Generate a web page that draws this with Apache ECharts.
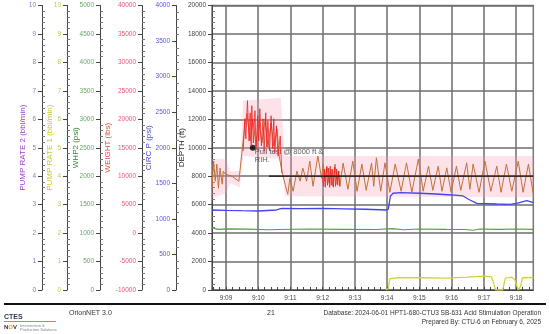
<!DOCTYPE html>
<html><head><meta charset="utf-8">
<script src="https://cdn.jsdelivr.net/npm/echarts@6/dist/echarts.min.js"></script>
<style>html,body{margin:0;padding:0;background:#fff}#c{width:550px;height:334px}</style>
</head><body><div id="c"></div>
<script>
// time in seconds after 9:00
const xTickSeconds = [540,600,660,720,780,840,900,960,1020,1080];
const xTickLabels = ['9:09','9:10','9:11','9:12','9:13','9:14','9:15','9:16','9:17','9:18'];

const weightBrown = [[514,7880],[517,12660],[520,9120],[523,12125],[526,7880],[529,11420],[533,8590],[535,10890],[539,10355],[551,10000],[564,9120],[570,14430],[575,18850],[579,20980],[585,16200],[590,20090],[596,15310],[601,19740],[607,15840],[613,20090],[618,15130],[624,19380],[629,15310],[635,18320],[639,13540],[644,10890],[650,8590],[655,6815],[659,9650],[665,7350],[672,10890],[678,9120],[683,11420],[690,9120],[696,12660],[702,8230],[711,13540],[718,9650],[721,12125],[724,9120],[728,11770],[732,8760],[735,11240],[739,8230],[743,12125],[747,8590],[750,10890],[752,8230],[758,12300],[767,7700],[776,12660],[784,7350],[793,12125],[801,7520],[811,12300],[815,8230],[820,13240],[828,7350],[836,12355],[845,7170],[855,12125],[866,7350],[876,12355],[886,7170],[898,13010],[907,7350],[917,11770],[925,7520],[935,11770],[942,7350],[951,11470],[959,7170],[969,11770],[977,7520],[988,12355],[994,7700],[1000,12125],[1011,7170],[1022,12660],[1033,7350],[1044,11770],[1052,7170],[1062,12125],[1072,7350],[1084,12660],[1093,7170],[1103,12125],[1112,6815]];

const weightRed = [[572,14430],[575,20090],[577,16550],[580,23280],[583,16200],[585,21150],[587,15310],[588,22390],[591,15840],[594,21510],[596,14780],[599,20620],[601,16200],[603,21860],[606,15310],[609,20090],[611,14430],[614,21150],[616,15130],[618,19740],[621,14430],[624,20620],[627,14780],[629,20090],[631,14070],[634,18850],[637,13540],[641,17080],[644,10530],[680,null],[719,10000],[722,8230],[723,11240],[725,8050],[727,11590],[729,8410],[731,11420],[733,8050],[734,11770],[736,8410],[738,11240],[740,8050],[742,11590],[744,8230],[746,11240],[748,8410],[749,10890],[752,8230]];

const bandTime = [514,540,548,566,572,642,650,1112];
const bandLow  = [6110,6990,8760,8050,13540,13010,6460,6280];
const bandHigh = [13010,13010,10890,10890,23280,23800,13540,13540];

const circP = [[514,1125],[540,1120],[570,1115],[600,1111],[634,1125],[644,1149],[680,1145],[720,1149],[760,1142],[800,1135],[838,1125],[842,1135],[846,1320],[851,1360],[865,1368],[900,1360],[930,1350],[960,1336],[981,1322],[994,1265],[1007,1219],[1044,1209],[1069,1205],[1081,1219],[1100,1256],[1112,1228]];

const whp2 = [[514,1095],[525,1065],[545,1075],[580,1070],[620,1060],[660,1068],[700,1072],[760,1066],[820,1062],[850,1078],[870,1060],[900,1072],[950,1066],[985,1062],[1000,1050],[1012,1072],[1050,1066],[1080,1072],[1112,1066]];

const pumpRate1 = [[838,0],[842,0.05],[845,0.4],[860,0.43],[900,0.43],[950,0.42],[990,0.45],[1020,0.49],[1034,0.46],[1038,0.25],[1042,0],[1055,0],[1060,0.42],[1072,0.45],[1078,0.35],[1084,0],[1088,0.12],[1092,0.43],[1112,0.44]];

const depth = [[620,8000],[1112,8000]];
const note = [[590,15000]];
const noteText = 'Pull test @ 8000 ft &\nRIH.';

const F = "'Liberation Sans', Arial, sans-serif";
const xMin = 514, xMax = 1112;
const minorVals = [];
for (let v = 516; v <= xMax; v += 12) minorVals.push(v);

function yAx(name, min, max, interval, offset, nameGap, nameColor, labelColor) {
  return {
    type: 'value', position: 'left', offset, min, max, interval,
    name, nameLocation: 'middle', nameGap, nameMoveOverlap: false,
    nameTextStyle: { color: nameColor, fontSize: 8, fontFamily: F },
    axisLine: { show: true, lineStyle: { color: '#444', width: 1 } },
    axisTick: { show: true, length: 4, lineStyle: { color: '#444' } },
    minorTick: { show: true, splitNumber: 5, length: -3, lineStyle: { color: '#777' } },
    axisLabel: { color: labelColor, fontSize: 6.5, margin: 6, fontFamily: F, formatter: (v) => String(v) },
    splitLine: { show: false }
  };
}

const chart = echarts.init(document.getElementById('c'), null, { renderer: 'canvas' });
chart.setOption({
  animation: false,
  textStyle: { fontFamily: F },
  grid: { left: 212, right: 16.7, top: 5.5, bottom: 44, show: true, borderColor: '#777', borderWidth: 1.5, outerBoundsMode: 'none', containLabel: false },
  xAxis: {
    type: 'value', min: xMin, max: xMax,
    axisLine: { show: true, onZero: false, lineStyle: { color: '#444', width: 1 } },
    axisTick: { show: true, inside: true, length: 3, customValues: minorVals, lineStyle: { color: '#444' } },
    axisLabel: { customValues: xTickSeconds, fontSize: 6.5, color: '#444', margin: 5,
      formatter: (v) => { const i = xTickSeconds.indexOf(v); return i >= 0 ? xTickLabels[i] : ''; } },
    splitLine: { show: false }
  },
  yAxis: [
    Object.assign(yAx('DEPTH (ft)', 0, 20000, 2000, 0, 26, '#222', '#444'),
      { splitLine: { show: true, lineStyle: { color: '#6e6e6e', width: 1.5 } } }),
    yAx('CIRC P (psi)', 0, 4000, 500, 36, 23, '#4b4bdc', '#5555ee'),
    yAx('WEIGHT (lbs)', -10000, 40000, 5000, 70, 30, '#e0503a', '#ee5577'),
    yAx('WHP2 (psi)', 0, 5000, 500, 112, 20, '#2e8b2e', '#66aa66'),
    yAx('PUMP RATE 1 (bbl/min)', 0, 10, 1, 145, 13, '#c8c832', '#c8c860'),
    yAx('PUMP RATE 2 (bbl/min)', 0, 10, 1, 170, 15.5, '#a040d0', '#9a70d0')
  ],
  series: [
    { name: 'band', type: 'custom', yAxisIndex: 2, silent: true, clip: true, data: [[bandTime[0], bandLow[0]]],
      renderItem: (params, api) => {
        const pts = [];
        for (let i = 0; i < bandTime.length; i++) pts.push(api.coord([bandTime[i], bandHigh[i]]));
        for (let i = bandTime.length - 1; i >= 0; i--) pts.push(api.coord([bandTime[i], bandLow[i]]));
        return { type: 'polygon', shape: { points: pts }, style: { fill: 'rgba(250,150,175,0.28)' } };
      } },
    { name: 'CIRC P', type: 'line', yAxisIndex: 1, data: circP, symbol: 'none', lineStyle: { color: '#4444ee', width: 1.3 },
      markLine: { silent: true, z: 0, symbol: ['none', 'none'], label: { show: false }, lineStyle: { color: '#6e6e6e', width: 1.5, type: 'solid' }, data: xTickSeconds.map(v => ({ xAxis: v })) } },
    { name: 'WHP2', type: 'line', yAxisIndex: 3, data: whp2, symbol: 'none', lineStyle: { color: '#5a9a4a', width: 1.1 } },
    { name: 'PUMP RATE 1', type: 'line', yAxisIndex: 4, data: pumpRate1, symbol: 'none', lineStyle: { color: '#d4d43a', width: 1.3 } },
    { name: 'WEIGHT2', type: 'line', yAxisIndex: 2, data: weightBrown, symbol: 'none', lineStyle: { color: '#c0703a', width: 1 } },
    { name: 'WEIGHT', type: 'line', yAxisIndex: 2, data: weightRed, symbol: 'none', connectNulls: false, lineStyle: { color: '#f02020', width: 0.8 } },
    { name: 'DEPTH', type: 'line', yAxisIndex: 0, data: depth, symbol: 'none', lineStyle: { color: '#111', width: 1.3 } },
    { name: 'note', type: 'scatter', yAxisIndex: 2, data: note, symbolSize: 6, itemStyle: { color: '#000' },
      label: { show: true, position: 'right', distance: 0, offset: [-1, 8], formatter: noteText, fontSize: 7.5, color: '#333', lineHeight: 8.5, fontFamily: F } }
  ],
  graphic: [
    { type: 'rect', shape: { x: 4, y: 303, width: 542, height: 2 }, style: { fill: '#111' } },
    { type: 'text', x: 69, y: 313, style: { text: 'OrionNET 3.0', font: "7px 'Liberation Sans'", fill: '#333', verticalAlign: 'middle' } },
    { type: 'text', x: 271, y: 313, style: { text: '21', font: "7px 'Liberation Sans'", fill: '#333', align: 'center', verticalAlign: 'middle' } },
    { type: 'text', x: 541, y: 313, style: { text: 'Database: 2024-06-01 HPT1-680-CTU3 SB-631 Acid Stimulation Operation', font: "6.5px 'Liberation Sans'", fill: '#333', align: 'right', verticalAlign: 'middle' } },
    { type: 'text', x: 541, y: 322.5, style: { text: 'Prepared By: CTU-6 on February 6, 2025', font: "6.5px 'Liberation Sans'", fill: '#333', align: 'right', verticalAlign: 'middle' } },
    { type: 'text', x: 4, y: 317, style: { text: 'CTES', font: "bold 7px 'Liberation Sans'", fill: '#2a3550', verticalAlign: 'middle' } },
    { type: 'rect', shape: { x: 4, y: 321, width: 52, height: 0.8 }, style: { fill: '#b05050' } },
    { type: 'text', x: 4, y: 327.5, style: { text: '{a|N}{b|O}{a|V}', verticalAlign: 'middle', rich: { a: { font: "bold 6px 'Liberation Sans'", fill: '#1f2a44' }, b: { font: "bold 6px 'Liberation Sans'", fill: '#e8a020' } } } },
    { type: 'text', x: 20, y: 327.5, style: { text: 'Intervention &\nProduction Solutions', font: "4px 'Liberation Sans'", fill: '#888', verticalAlign: 'middle' } }
  ]
});
</script></body></html>
